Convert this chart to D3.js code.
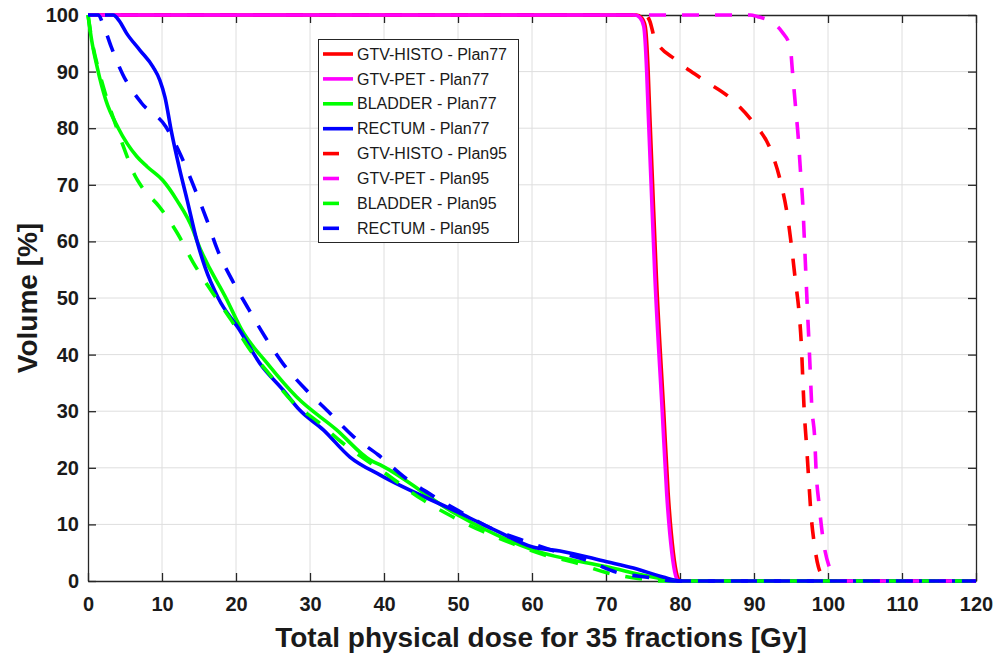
<!DOCTYPE html>
<html>
<head>
<meta charset="utf-8">
<script src="https://cdn.jsdelivr.net/npm/d3@7"></script>
<style>
  html, body { margin: 0; padding: 0; background: #fff; }
  svg { display: block; font-family: "Liberation Sans", Arial, sans-serif; }
</style>
</head>
<body>
<svg id="chart" width="996" height="655"></svg>
<script>
// ---- data (dose [Gy], volume [%]) ----
const xTicks = [0,10,20,30,40,50,60,70,80,90,100,110,120];
const yTicks = [0,10,20,30,40,50,60,70,80,90,100];

const gtvHisto77 = [[0,100],[74.1,100],[74.8,99.5],[75.3,98],[75.7,90],[75.9,83],[76.3,70],[76.8,54],[77.8,30],[78.4,15.5],[79.1,5],[79.6,1],[80.0,0],[120,0]];
const gtvPet77   = [[0,100],[73.9,100],[74.6,99.5],[75.1,98],[75.5,90],[75.7,83],[76.1,70],[76.6,54],[77.6,30],[78.2,15.5],[78.9,5],[79.4,1],[79.8,0],[120,0]];
const bladder77  = [[0,100],[0.5,95.5],[1.2,91],[2.4,85],[4.1,80],[6.6,75],[8,73.2],[10.1,70.8],[12,67.3],[14.2,62],[14.7,60.2],[18.8,49.6],[20.8,44.3],[24.2,38.5],[28.2,32.5],[33.6,26.7],[38.1,21.4],[39.5,20.5],[49.9,11.7],[60.1,5.5],[70.1,2.5],[78.6,0.2],[80,0],[120,0]];
const rectum77   = [[0,100],[3.4,100],[4.2,99],[5.2,96.8],[7,93.8],[8.8,90.8],[9.7,88.5],[10.4,85.5],[11.3,79.2],[12.3,73.2],[13.4,67.3],[14.7,60.2],[15.8,55.5],[17.6,50],[20.5,44.3],[23.2,38.5],[26.4,33.7],[28.6,30.2],[31.8,26.7],[35.4,21.9],[39.5,18.7],[49.9,12.2],[55,9],[60.1,6],[63.8,5.3],[70.1,3.4],[73.7,2.3],[77.7,0.7],[80,0],[120,0]];
const gtvHisto95 = [[0,100],[75.3,100],[75.9,99],[76.6,95.8],[79.5,92],[83.1,88.6],[86.9,85.2],[89.9,81],[92.3,76],[93.6,70.5],[94.5,64.7],[95.1,58.8],[95.6,53],[96.1,47.3],[96.4,41.7],[96.6,35.5],[96.8,29.7],[97.1,24],[97.4,17.8],[97.7,11.9],[98.2,6.1],[98.7,2.5],[99.5,0.6],[100.4,0],[120,0]];
const gtvPet95   = [[0,100],[89.5,100],[90.5,99.7],[92.2,98.9],[93.8,97],[94.9,94.3],[95.2,90],[95.6,84],[96.0,78],[96.3,72],[96.6,66.4],[96.8,60.5],[97.0,54.5],[97.2,48.5],[97.4,43],[97.6,37],[97.8,31],[98.2,25.3],[98.4,19.3],[98.8,13.5],[99.3,7.7],[100.3,2],[100.8,0.6],[101.2,0],[120,0]];
const bladder95  = [[0,100],[0.6,95],[1.5,90],[2.6,85],[3.5,81.5],[5,76],[6.2,72],[7.4,69.4],[9.6,66.2],[12.1,61.4],[14.2,56.3],[16.7,51.2],[19.4,46],[21.7,41.2],[24.6,36.4],[27.7,31.6],[31.1,28.1],[34.2,24.6],[40,19.2],[45.3,14.3],[49.2,11.4],[53.3,8.8],[57.4,6.6],[61.7,4.6],[65.9,3.2],[70,1.5],[74.3,0.45],[77.5,0],[120,0]];
const rectum95   = [[0,100],[1.4,100],[2,98.5],[3.1,94.5],[4.7,89.5],[7.2,84.5],[10.5,80.3],[12.5,75.3],[14.3,69.7],[16,64],[17.5,58.5],[19.5,53.1],[21.5,48.5],[23.9,43.2],[26.3,38.5],[29.3,34],[32.5,29.9],[35.8,25.6],[39.2,22.3],[42.9,18.2],[46.8,14.9],[50.5,12.1],[54.5,9.3],[58.7,7.2],[63,5.3],[67.1,3.8],[71.5,1.5],[76,0.6],[79,0],[120,0]];

const seriesNames  = ["GTV-HISTO - Plan77","GTV-PET - Plan77","BLADDER - Plan77","RECTUM - Plan77","GTV-HISTO - Plan95","GTV-PET - Plan95","BLADDER - Plan95","RECTUM - Plan95"];
const seriesData   = [gtvHisto77, gtvPet77, bladder77, rectum77, gtvHisto95, gtvPet95, bladder95, rectum95];
const seriesColors = ["#ff0000","#ff00ff","#00ff00","#0000ff","#ff0000","#ff00ff","#00ff00","#0000ff"];
const seriesDashed = [false,false,false,false,true,true,true,true];

// ---- layout ----
const svg = d3.select("#chart");
const L = 88, R = 976, T = 15, B = 581;
const x = d3.scaleLinear().domain([0,120]).range([L,R]);
const y = d3.scaleLinear().domain([0,100]).range([B,T]);
const frame = "#262626";

// grid
const grid = svg.append("g");
grid.selectAll("line.vx").data(xTicks.slice(1,-1)).join("line")
  .attr("x1", d => x(d)).attr("x2", d => x(d)).attr("y1", T).attr("y2", B)
  .attr("stroke", "#dedede").attr("stroke-width", 1);
grid.selectAll("line.hy").data(yTicks.slice(1,-1)).join("line")
  .attr("y1", d => y(d)).attr("y2", d => y(d)).attr("x1", L).attr("x2", R)
  .attr("stroke", "#dedede").attr("stroke-width", 1);

// axes
function styleAxis(g) {
  g.select(".domain").attr("stroke", frame).attr("stroke-width", 1.3);
  g.selectAll(".tick line").attr("stroke", frame).attr("stroke-width", 1.3);
  g.selectAll(".tick text").attr("fill", "#1a1a1a").attr("font-size", 20).attr("font-weight", "bold")
    .attr("font-family", "'Liberation Sans', Arial, sans-serif");
}
svg.append("g").attr("transform", `translate(0,${B})`)
  .call(d3.axisBottom(x).tickValues(xTicks).tickSize(-8).tickSizeOuter(0).tickPadding(16))
  .call(styleAxis);
svg.append("g").attr("transform", `translate(${L},0)`)
  .call(d3.axisLeft(y).tickValues(yTicks).tickSize(-8).tickSizeOuter(0).tickPadding(9))
  .call(styleAxis);
svg.append("g").attr("transform", `translate(0,${T})`)
  .call(d3.axisTop(x).tickValues(xTicks).tickSize(-8).tickSizeOuter(0).tickFormat(""))
  .call(styleAxis);
svg.append("g").attr("transform", `translate(${R},0)`)
  .call(d3.axisRight(y).tickValues(yTicks).tickSize(-8).tickSizeOuter(0).tickFormat(""))
  .call(styleAxis);

// lines
const line = d3.line().x(d => x(d[0])).y(d => y(d[1])).curve(d3.curveMonotoneX);
seriesData.forEach((data, i) => {
  svg.append("path").datum(data)
    .attr("d", line)
    .attr("fill", "none")
    .attr("stroke", seriesColors[i])
    .attr("stroke-width", 3.6)
    .attr("stroke-linejoin", "round")
    .attr("stroke-dasharray", seriesDashed[i] ? "17 16" : null);
});

// axis titles
svg.append("text").attr("x", 541).attr("y", 647).attr("text-anchor", "middle")
  .attr("font-size", 28).attr("font-weight", "bold").attr("fill", "#1a1a1a")
  .text("Total physical dose for 35 fractions [Gy]");
svg.append("text").attr("transform", "translate(37,298) rotate(-90)").attr("text-anchor", "middle")
  .attr("font-size", 28).attr("font-weight", "bold").attr("fill", "#1a1a1a")
  .text("Volume [%]");

// legend
const lg = svg.append("g");
lg.append("rect").attr("x", 318.5).attr("y", 39.5).attr("width", 200).attr("height", 203)
  .attr("fill", "#fff").attr("stroke", frame).attr("stroke-width", 1);
seriesNames.forEach((name, i) => {
  const yy = 54 + i * 24.9;
  lg.append("line").attr("x1", 323).attr("x2", 353).attr("y1", yy).attr("y2", yy)
    .attr("stroke", seriesColors[i]).attr("stroke-width", 3.6)
    .attr("stroke-dasharray", seriesDashed[i] ? "16 30" : null);
  lg.append("text").attr("x", 357).attr("y", yy).attr("dy", "0.35em")
    .attr("font-size", 16).attr("fill", "#1a1a1a").text(name);
});
</script>
</body>
</html>
